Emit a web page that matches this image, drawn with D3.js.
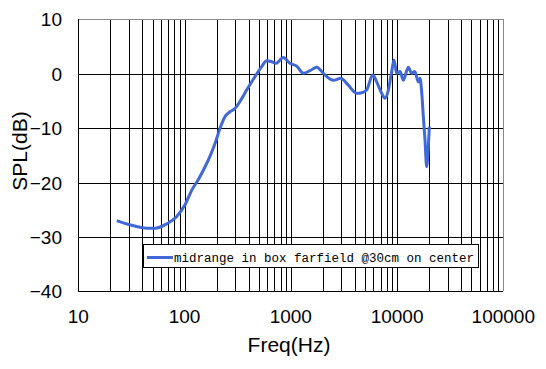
<!DOCTYPE html>
<html>
<head>
<meta charset="utf-8">
<script src="https://cdn.jsdelivr.net/npm/d3@7.9.0/dist/d3.min.js"></script>
<style>
  body { margin: 0; background: #fff; }
  svg { display: block; }
  .tick-label { font-family: "Liberation Sans", Arial, sans-serif; font-size: 19px; fill: #000; }
  .axis-title { font-family: "Liberation Sans", Arial, sans-serif; font-size: 21px; fill: #000; }
  .legend-text { font-family: "Liberation Mono", "DejaVu Sans Mono", monospace; font-size: 12.5px; fill: #000; }
</style>
</head>
<body>
<svg id="chart" width="546" height="369"></svg>
<script>
const freq = [23, 31, 44, 53, 68, 84, 101, 117, 137, 156, 175, 194, 216, 240, 268, 298, 330, 384,
  460, 532, 593, 661, 726, 850, 982, 1135, 1311, 1516, 1754, 2024, 2514, 2950, 3478, 4165,
  4641, 5174, 5897, 6433, 7166, 7704, 8280, 8908, 9360, 9930, 10670, 11460, 12770, 13700,
  14700, 15850, 16440, 17050, 17680, 18330, 19000, 19700, 20140];
const spl = [-27.0, -27.8, -28.4, -28.4, -27.6, -26.3, -24.1, -21.4, -19.2, -17.1, -15.0, -12.8,
  -10.0, -7.9, -7.0, -6.4, -5.2, -3.0, -0.55, 1.3, 2.4, 2.2, 1.9, 3.0, 1.9, 1.4, 0.1, 0.55,
  1.2, 0.07, -1.2, -0.85, -2.1, -3.6, -3.5, -3.0, -0.24, -1.5, -3.6, -4.5, -3.0, 0.4, 2.5,
  0.07, 0.4, -1.2, 1.2, 0.07, 0.4, -1.5, -0.85, -3.3, -7.9, -12.2, -17.1, -13.4, -9.7];

const xTicks = [10, 100, 1000, 10000, 100000];
const yTicks = [10, 0, -10, -20, -30, -40];
const seriesName = 'midrange in box farfield @30cm on center';

const svg = d3.select('#chart');
const plotL = 78.3, plotR = 503.3, plotT = 19.3, plotB = 291.3;

const x = d3.scaleLog().domain([10, 100000]).range([plotL, plotR]);
const y = d3.scaleLinear().domain([-40, 10]).range([plotB, plotT]);

// vertical grid: majors + minors (2..9 each decade)
const minor = [];
for (let d = 10; d < 100000; d *= 10) {
  for (let k = 2; k <= 9; k++) minor.push(d * k);
}
const grid = svg.append('g').attr('shape-rendering', 'crispEdges');
grid.selectAll('line.v')
  .data(minor.concat(xTicks.slice(1, -1)))
  .join('line')
  .attr('x1', (d) => Math.round(x(d)) + 0.5)
  .attr('x2', (d) => Math.round(x(d)) + 0.5)
  .attr('y1', plotT)
  .attr('y2', plotB)
  .attr('stroke', '#000');

grid.selectAll('line.h')
  .data(yTicks.slice(1, -1))
  .join('line')
  .attr('x1', plotL)
  .attr('x2', plotR)
  .attr('y1', (d) => Math.round(y(d)) + 0.5)
  .attr('y2', (d) => Math.round(y(d)) + 0.5)
  .attr('stroke', '#000');

// frame
grid.append('line').attr('x1', plotL).attr('x2', plotR).attr('y1', Math.round(plotT) + 0.5).attr('y2', Math.round(plotT) + 0.5).attr('stroke', '#888');
grid.append('line').attr('x1', Math.round(plotR) + 0.5).attr('x2', Math.round(plotR) + 0.5).attr('y1', plotT).attr('y2', plotB).attr('stroke', '#888');
grid.append('line').attr('x1', Math.round(plotL) + 0.5).attr('x2', Math.round(plotL) + 0.5).attr('y1', plotT).attr('y2', plotB).attr('stroke', '#000');
grid.append('line').attr('x1', plotL).attr('x2', plotR).attr('y1', Math.round(plotB) + 0.5).attr('y2', Math.round(plotB) + 0.5).attr('stroke', '#000');

// tick labels
svg.selectAll('text.ylab')
  .data(yTicks)
  .join('text')
  .attr('class', 'tick-label')
  .attr('x', 62)
  .attr('y', (d) => y(d) + 7)
  .attr('text-anchor', 'end')
  .text((d) => (d < 0 ? '\u2212' + Math.abs(d) : d));

svg.selectAll('text.xlab')
  .data(xTicks)
  .join('text')
  .attr('class', 'tick-label')
  .attr('x', (d) => x(d))
  .attr('y', 322.5)
  .attr('text-anchor', 'middle')
  .text((d) => d);

svg.append('text')
  .attr('class', 'axis-title')
  .attr('x', 289)
  .attr('y', 352)
  .attr('text-anchor', 'middle')
  .text('Freq(Hz)');

svg.append('text')
  .attr('class', 'axis-title')
  .attr('transform', 'translate(27,151) rotate(-90)')
  .attr('text-anchor', 'middle')
  .text('SPL(dB)');

// curve
const pts = freq.map((f, i) => [f, spl[i]]);
const line = d3.line()
  .x((d) => x(d[0]))
  .y((d) => y(d[1]))
  .curve(d3.curveMonotoneX);

svg.append('path')
  .attr('d', line(pts))
  .attr('fill', 'none')
  .attr('stroke', '#4068d6')
  .attr('stroke-width', 3)
  .attr('stroke-linejoin', 'round');

// legend
const lg = svg.append('g');
lg.append('rect')
  .attr('x', 143.5)
  .attr('y', 244.5)
  .attr('width', 335)
  .attr('height', 23)
  .attr('fill', '#fff')
  .attr('stroke', '#000');
lg.append('line')
  .attr('x1', 147)
  .attr('x2', 173)
  .attr('y1', 257.5)
  .attr('y2', 257.5)
  .attr('stroke', '#4068d6')
  .attr('stroke-width', 3);
lg.append('text')
  .attr('class', 'legend-text')
  .attr('x', 174)
  .attr('y', 261.5)
  .text(seriesName);
</script>
</body>
</html>
